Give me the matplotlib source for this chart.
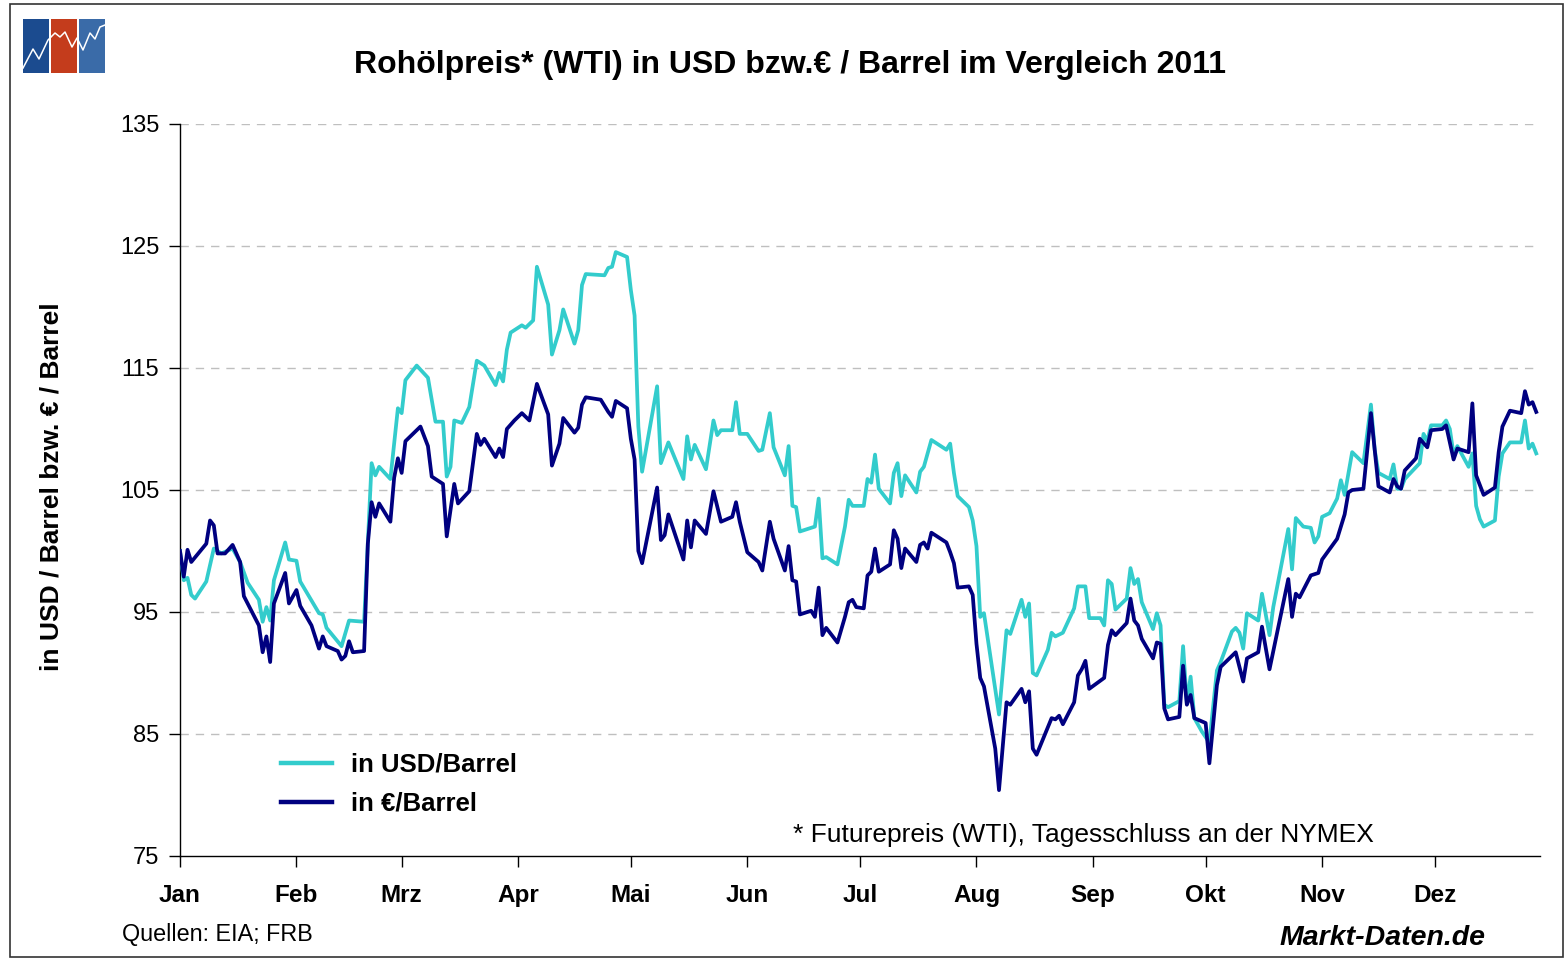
import numpy as np
import matplotlib
matplotlib.use("Agg")
import matplotlib.pyplot as plt
from matplotlib.lines import Line2D
from matplotlib.patches import Rectangle

# WTI crude oil 2011, indexed (first trading day = 100)
# x values: day offset from 1 January 2011
usd_day = [0, 1, 2, 3, 4, 7, 9, 11, 14, 16, 18, 21, 22, 23, 24, 25, 28, 29, 31, 32,
           37, 38, 39, 43, 45, 49, 51, 52, 53, 56, 58, 59, 60, 63, 66, 68, 70, 71, 72, 73,
           75, 77, 79, 81, 84, 85, 86, 87, 88, 91, 92, 94, 95, 98, 99, 101, 102, 105, 106, 107,
           108, 113, 114, 115, 116, 119, 120, 121, 122, 123, 127, 128, 130, 134, 135, 136, 137, 140, 142, 143,
           144, 147, 148, 149, 151, 154, 155, 157, 158, 161, 162, 163, 164, 165, 169, 170, 171, 172, 175, 177,
           178, 179, 182, 183, 184, 185, 186, 189, 190, 191, 192, 193, 196, 197, 198, 200, 204, 205, 206, 207,
           210, 211, 212, 213, 214, 218, 220, 221, 224, 225, 226, 227, 228, 231, 232, 233, 235, 238, 239, 241,
           242, 245, 246, 247, 248, 249, 252, 253, 254, 255, 256, 259, 260, 261, 262, 263, 266, 267, 268, 269,
           270, 272, 274, 276, 277, 280, 281, 282, 283, 284, 287, 288, 290, 291, 295, 296, 297, 299, 301, 302,
           303, 304, 306, 308, 309, 310, 312, 315, 317, 318, 319, 322, 323, 324, 325, 326, 330, 331, 332, 333,
           336, 337, 338, 339, 340, 343, 344, 345, 346, 347, 350, 351, 352, 354, 357, 358, 359, 360, 361]
usd_val = [100.0, 97.6, 97.8, 96.4, 96.1, 97.5, 100.2, 99.8, 100.2, 99.1, 97.4, 96.0, 94.2, 95.4, 94.3, 97.6, 100.7, 99.3, 99.2, 97.5,
           94.9, 94.8, 93.7, 92.2, 94.3, 94.2, 107.2, 106.2, 106.9, 105.9, 111.7, 111.3, 114.0, 115.2, 114.2, 110.6, 110.6, 106.1, 106.9, 110.7,
           110.5, 111.8, 115.6, 115.2, 113.6, 114.6, 113.9, 116.5, 117.9, 118.5, 118.3, 118.9, 123.3, 120.2, 116.1, 118.1, 119.8, 117.0, 118.1, 121.8,
           122.7, 122.6, 123.2, 123.3, 124.5, 124.1, 121.4, 119.3, 110.2, 106.5, 113.5, 107.2, 108.9, 105.9, 109.4, 107.5, 108.7, 106.7, 110.7, 109.5,
           109.9, 109.9, 112.2, 109.6, 109.6, 108.2, 108.3, 111.3, 108.5, 106.2, 108.6, 103.7, 103.6, 101.6, 102.0, 104.3, 99.4, 99.5, 98.9, 102.0,
           104.2, 103.7, 103.7, 105.9, 105.6, 107.9, 105.1, 103.9, 106.4, 107.2, 104.5, 106.2, 104.8, 106.5, 106.9, 109.1, 108.3, 108.8, 106.4, 104.5,
           103.6, 102.5, 100.4, 94.6, 94.9, 86.6, 93.5, 93.2, 96.0, 94.6, 95.7, 90.0, 89.8, 91.9, 93.3, 93.0, 93.3, 95.3, 97.1, 97.1,
           94.5, 94.5, 93.9, 97.6, 97.3, 95.2, 96.1, 98.6, 97.3, 97.7, 95.8, 93.6, 94.9, 93.9, 87.4, 87.2, 87.7, 92.2, 87.5, 89.7,
           86.3, 85.2, 84.3, 90.2, 90.9, 93.4, 93.7, 93.3, 92.0, 94.9, 94.3, 96.5, 93.1, 95.4, 101.8, 98.5, 102.7, 102.0, 101.9, 100.7,
           101.2, 102.8, 103.1, 104.3, 105.8, 104.6, 108.1, 107.2, 112.0, 108.3, 106.4, 105.9, 107.1, 105.1, 105.1, 105.9, 107.2, 109.6, 109.0, 110.3,
           110.3, 110.7, 110.0, 107.9, 108.6, 106.9, 108.0, 103.7, 102.6, 102.0, 102.5, 106.1, 108.0, 108.9, 108.9, 110.7, 108.4, 108.8, 108.0]

eur_day = [0, 1, 2, 3, 7, 8, 9, 10, 12, 14, 16, 17, 18, 21, 22, 23, 24, 25, 28, 29,
           31, 32, 35, 37, 38, 39, 42, 43, 44, 45, 46, 49, 50, 51, 52, 53, 56, 57, 58, 59,
           60, 64, 66, 67, 70, 71, 73, 74, 77, 79, 80, 81, 84, 85, 86, 87, 89, 91, 93, 95,
           98, 99, 101, 102, 105, 106, 107, 108, 112, 114, 115, 116, 119, 120, 121, 122, 123, 127, 128, 129,
           130, 134, 135, 136, 137, 140, 142, 144, 147, 148, 149, 151, 154, 155, 157, 158, 161, 162, 163, 164,
           165, 168, 169, 170, 171, 172, 175, 177, 178, 179, 180, 182, 183, 184, 185, 186, 189, 190, 191, 192,
           193, 196, 197, 198, 199, 200, 204, 205, 206, 207, 210, 211, 212, 213, 214, 217, 218, 220, 221, 224,
           225, 226, 227, 228, 232, 233, 234, 235, 238, 239, 240, 241, 242, 246, 247, 248, 249, 252, 253, 254,
           255, 256, 259, 260, 261, 262, 263, 266, 267, 268, 269, 270, 273, 274, 276, 277, 281, 283, 284, 287,
           288, 290, 295, 296, 297, 298, 301, 303, 304, 308, 310, 311, 312, 315, 317, 319, 322, 323, 324, 325,
           326, 329, 330, 332, 333, 336, 337, 339, 340, 343, 344, 345, 347, 350, 351, 352, 354, 357, 358, 359,
           360, 361]
eur_val = [100.0, 97.9, 100.1, 99.1, 100.6, 102.5, 102.1, 99.8, 99.8, 100.5, 99.1, 96.3, 95.7, 93.9, 91.7, 93.0, 90.9, 95.7, 98.2, 95.7,
           96.8, 95.5, 93.9, 92.0, 93.0, 92.2, 91.8, 91.1, 91.4, 92.6, 91.7, 91.8, 100.6, 104.0, 102.8, 103.9, 102.4, 106.0, 107.6, 106.4,
           109.0, 110.2, 108.6, 106.1, 105.5, 101.2, 105.5, 103.9, 104.9, 109.6, 108.7, 109.2, 107.7, 108.4, 107.7, 110.0, 110.7, 111.3, 110.7, 113.7,
           111.2, 107.0, 108.8, 110.9, 109.7, 110.1, 112.0, 112.6, 112.4, 111.4, 111.0, 112.3, 111.7, 109.2, 107.5, 100.0, 99.0, 105.2, 100.9, 101.3,
           103.0, 99.3, 102.5, 100.3, 102.5, 101.4, 104.9, 102.4, 102.8, 104.0, 102.4, 99.9, 99.1, 98.4, 102.4, 101.0, 98.4, 100.4, 97.6, 97.5,
           94.8, 95.1, 94.6, 97.0, 93.1, 93.7, 92.5, 94.6, 95.8, 96.0, 95.4, 95.3, 98.0, 98.3, 100.2, 98.3, 98.9, 101.7, 101.0, 98.6,
           100.2, 99.1, 100.5, 100.7, 100.2, 101.5, 100.7, 99.9, 99.0, 97.0, 97.1, 96.4, 92.4, 89.6, 88.9, 83.8, 80.4, 87.6, 87.4, 88.7,
           87.6, 88.5, 83.8, 83.3, 86.3, 86.2, 86.5, 85.8, 87.6, 89.8, 90.3, 91.0, 88.7, 89.6, 92.3, 93.5, 93.1, 94.1, 96.1, 94.3,
           93.9, 92.8, 91.2, 92.5, 92.4, 87.1, 86.2, 86.4, 90.6, 87.4, 88.2, 86.3, 85.9, 82.6, 89.0, 90.5, 91.7, 89.3, 91.2, 91.7,
           93.8, 90.3, 97.7, 94.6, 96.5, 96.2, 98.0, 98.2, 99.3, 101.0, 103.0, 104.8, 105.0, 105.1, 111.3, 105.3, 104.8, 105.9, 105.3, 105.1,
           106.6, 107.6, 109.2, 108.5, 109.9, 110.0, 110.3, 107.5, 108.4, 108.1, 112.1, 106.2, 104.6, 105.2, 108.1, 110.2, 111.5, 111.3, 113.1, 112.0,
           112.2, 111.4]

month_labels = ["Jan", "Feb", "Mrz", "Apr", "Mai", "Jun", "Jul", "Aug", "Sep", "Okt", "Nov", "Dez"]
y_ticks = [75, 85, 95, 105, 115, 125, 135]

series_names = ["in USD/Barrel", "in \u20ac/Barrel"]
title_text = "Rohölpreis* (WTI) in USD bzw.\u20ac / Barrel im Vergleich 2011"
ylabel_text = "in USD / Barrel bzw. \u20ac / Barrel"
note_text = "* Futurepreis (WTI), Tagesschluss an der NYMEX"
source_text = "Quellen: EIA; FRB"
brand_text = "Markt-Daten.de"

USD_COLOR = "#33CCCC"
EUR_COLOR = "#000080"

plt.rcParams["font.family"] = ["Liberation Sans", "DejaVu Sans"]

W, H = 1566, 960
fig = plt.figure(figsize=(W / 100, H / 100), dpi=100)
fig.patch.set_facecolor("white")


def fx(px):
    return px / W


def fy(py):
    return 1 - py / H


base = np.datetime64("2011-01-01")
usd_dates = base + np.array(usd_day).astype("timedelta64[D]")
eur_dates = base + np.array(eur_day).astype("timedelta64[D]")

ax = fig.add_axes([fx(180), fy(856), fx(1540) - fx(180), fy(124) - fy(856)])
ax.plot(usd_dates, usd_val, color=USD_COLOR, lw=2.7, solid_joinstyle="round", zorder=3)
ax.plot(eur_dates, eur_val, color=EUR_COLOR, lw=2.7, solid_joinstyle="round", zorder=4)

ax.set_xlim(base, base + np.timedelta64(362, "D"))
ax.set_ylim(75, 135)

month_starts = [np.datetime64(f"2011-{m:02d}-01") for m in range(1, 13)]
ax.set_xticks(month_starts)
ax.set_xticklabels(month_labels, fontsize=17.5, fontweight="bold")
ax.set_yticks(y_ticks)
ax.set_yticklabels([str(v) for v in y_ticks], fontsize=17)
ax.tick_params(axis="x", direction="out", length=8, width=1, pad=12)
ax.tick_params(axis="y", direction="out", length=8, width=1, pad=7)

for v in y_ticks[1:]:
    ax.axhline(v, color="#BFBFBF", lw=1, ls=(0, (6, 5)), zorder=1)

for side in ("top", "right"):
    ax.spines[side].set_visible(False)
for side in ("left", "bottom"):
    ax.spines[side].set_color("black")
    ax.spines[side].set_linewidth(1)

# vertical axis title
fig.text(fx(52), fy(487), ylabel_text, rotation=90, ha="center", va="center",
         fontsize=19, fontweight="bold")

handles = [Line2D([0], [0], color=USD_COLOR, lw=3.2),
           Line2D([0], [0], color=EUR_COLOR, lw=3.2)]
fig.legend(handles, series_names, loc="upper left",
           bbox_to_anchor=(fx(281), fy(753)), frameon=False,
           prop={"size": 18.5, "weight": "bold"}, handlelength=2.0,
           handletextpad=0.72, labelspacing=0.57, borderpad=0, borderaxespad=0)

fig.text(fx(790), fy(65), title_text, ha="center", va="center",
         fontsize=23, fontweight="bold")
fig.text(fx(793), fy(835), note_text, ha="left", va="center", fontsize=19)
fig.text(fx(122), fy(935), source_text, ha="left", va="center", fontsize=16.8)
fig.text(fx(1486), fy(938), brand_text, ha="right", va="center",
         fontsize=20.5, fontweight="bold", style="italic")

# outer frame
fig.add_artist(Rectangle((fx(10), fy(957)), fx(1563) - fx(10), fy(4) - fy(957),
                         transform=fig.transFigure, fill=False,
                         edgecolor="#333333", lw=1.2))

# logo: three coloured panels with a white zigzag
lax = fig.add_axes([fx(23), fy(73), fx(105) - fx(23), fy(19) - fy(73)])
lax.set_xlim(23, 105)
lax.set_ylim(73, 19)
lax.axis("off")
for x0, col in [(23, "#1B4B8F"), (51, "#C43C1C"), (79, "#3A6BA8")]:
    lax.add_patch(Rectangle((x0, 19), 26, 54, color=col, lw=0))
zig_x = [23, 33, 39, 48, 55, 60, 65, 72, 77, 83, 90, 95, 100, 105]
zig_y = [68, 49, 59, 40, 33, 37, 32, 47, 38, 50, 33, 39, 27, 25]
lax.plot(zig_x, zig_y, color="white", lw=1.1)

fig.savefig("out.png", dpi=100, facecolor="white")
